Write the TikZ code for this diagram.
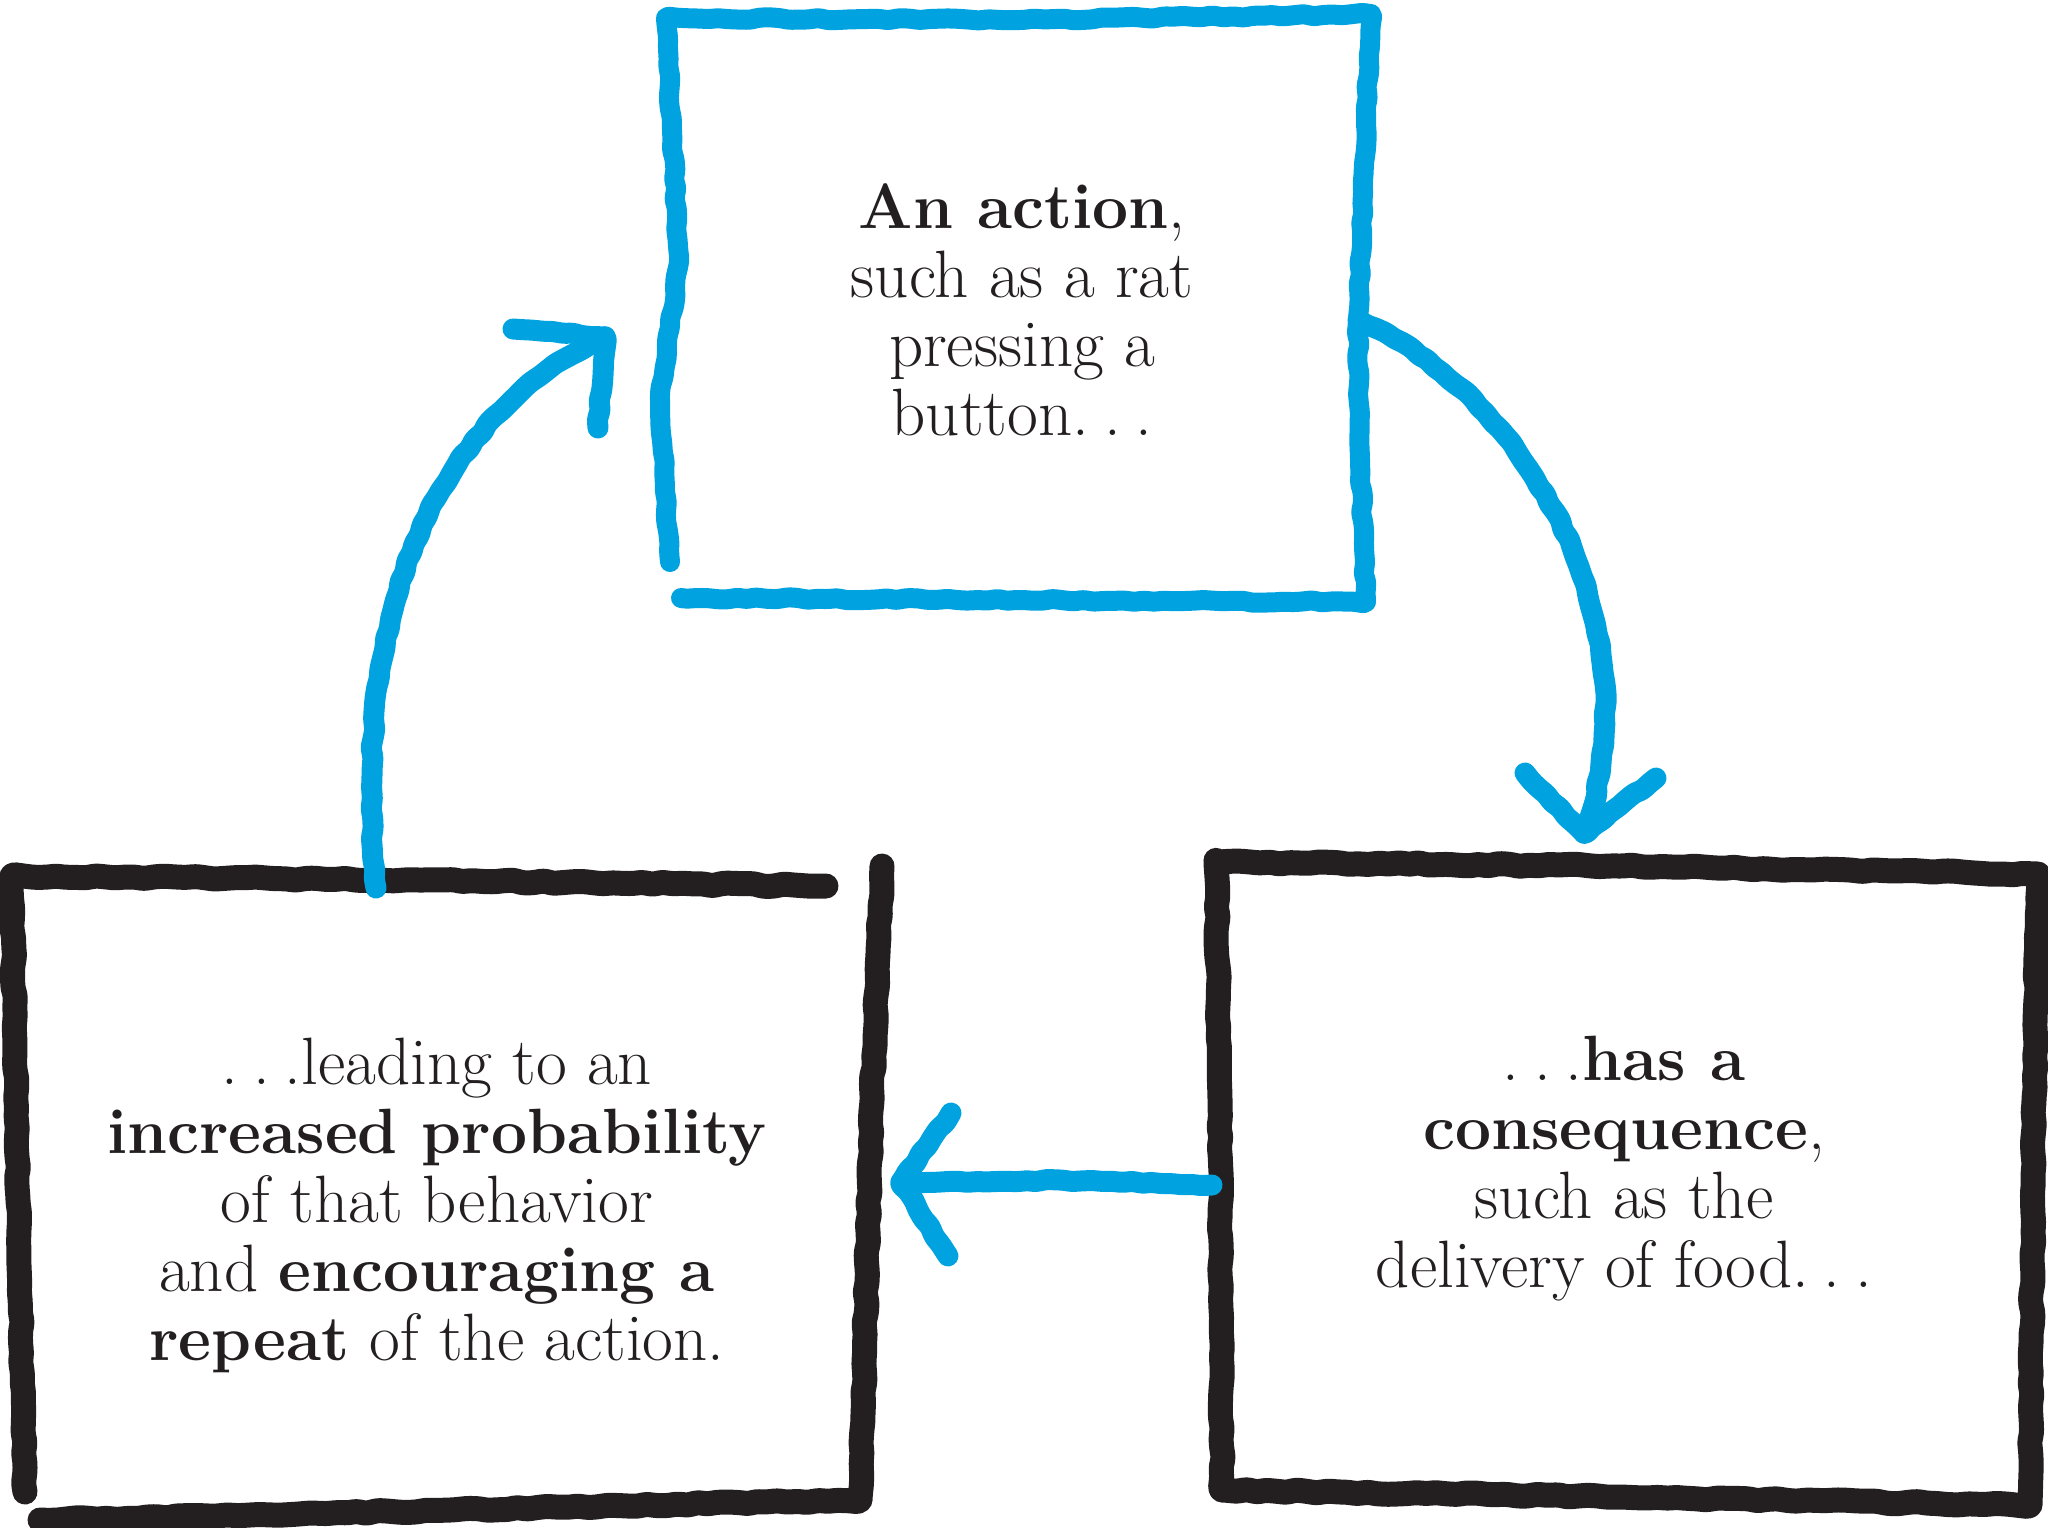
\documentclass[tikz,border=0pt]{standalone}
\usetikzlibrary{decorations.pathmorphing}
\definecolor{cblue}{HTML}{00A3E0}
\definecolor{cblack}{HTML}{231F20}
\newcommand{\sdots}{.\kern0.22em.\kern0.22em.}
\newcommand{\bx}[1]{{\fontsize{32pt}{34.5pt}\selectfont\bfseries #1}}
\begin{document}
\begin{tikzpicture}[x=0.5pt,y=-0.5pt,
  sketch/.style={decorate,decoration={random steps,segment length=5pt,amplitude=0.7pt},rounded corners=1.5pt,line cap=round,line join=round},
  bluebox/.style={sketch,draw=cblue,line width=10pt},
  blackbox/.style={sketch,draw=cblack,line width=12.5pt},
  arrowline/.style={sketch,draw=cblue,line width=10.5pt},
  boxtext/.style={text=cblack,align=center,inner sep=0pt,font=\fontsize{33.5pt}{34.5pt}\selectfont}]
\pgfmathsetseed{7}
\path[use as bounding box] (0,0) rectangle (2048,1527);

% boxes
\draw[bluebox] (670,562) -- (660,400) -- (679,262) -- (672,130) -- (666,18) -- (1020,20) -- (1371,14) -- (1366,120) -- (1358,320) -- (1360,460) -- (1366,602) -- (1020,600) -- (681,598);
\draw[blackbox] (25,1492) -- (18,1200) -- (12,876) -- (420,880) -- (826,886);
\draw[blackbox] (882,866) -- (872,1100) -- (860,1500) -- (450,1510) -- (40,1520);
\draw[blackbox] (1216,862) -- (1620,866) -- (2038,874) -- (2034,1100) -- (2030,1505) -- (1620,1497) -- (1222,1490) -- (1220,1100) -- cycle;

% texts
\node[boxtext] (acttext) at (1022,310) {\bx{An action},\\ such as a rat\\ pressing a\\ button\sdots};
\node[boxtext] (context) at (1624,1169) {\sdots\bx{has a}\\ \bx{consequence},\\ such as the\\ delivery of food\sdots};
\node[boxtext] (inctext) at (437,1205) {\sdots leading to an\\ \bx{increased probability}\\ of that behavior\\ and \bx{encouraging a}\\ \bx{repeat} of the action.};

% arrow ends
\coordinate (a1s) at (1358,320);
\coordinate (a1t) at (1584,833);
\coordinate (a1w1) at (1525,773);
\coordinate (a1w2) at (1656,778);
\coordinate (a2s) at (1212,1185);
\coordinate (a2t) at (901,1182);
\coordinate (a2w1) at (951,1113);
\coordinate (a2w2) at (948,1256);
\coordinate (a3s) at (376,888);
\coordinate (a3t) at (605,337);
\coordinate (a3w1) at (513,329);
\coordinate (a3w2) at (598,428);

% arrows
\draw[arrowline] (a1s) .. controls (1520,390) and (1660,620) .. (a1t);
\draw[arrowline] (a1w1) -- (a1t) -- (a1w2);
\draw[arrowline] (a2s) -- (1060,1180) -- (a2t);
\draw[arrowline] (a2w1) -- (a2t) -- (a2w2);
\draw[arrowline] (a3s) .. controls (350,620) and (430,420) .. (a3t);
\draw[arrowline] (a3w1) -- (a3t) -- (a3w2);
\end{tikzpicture}
\end{document}
